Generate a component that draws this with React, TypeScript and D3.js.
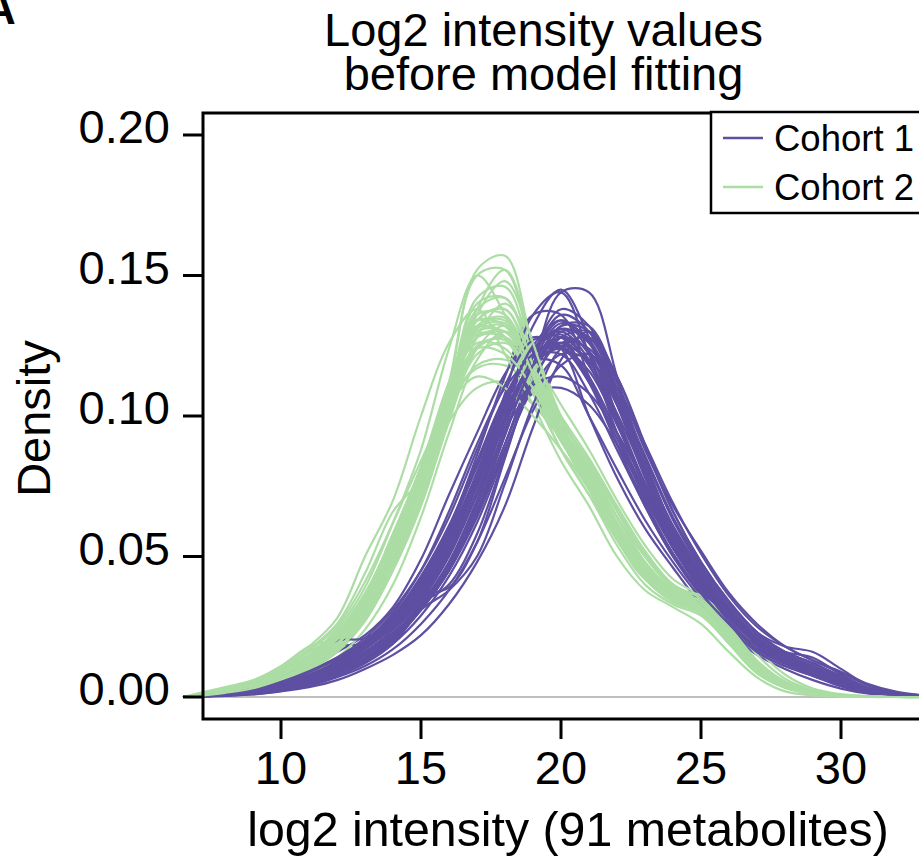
import React from "react";
import * as d3 from "d3";

const xGrid = [6.5, 7, 8, 9, 10, 11, 12, 13, 14, 15, 16, 17, 18, 19, 20, 21, 22, 23, 24, 25, 26, 27, 28, 29, 30, 31, 32, 33];

// Cohort 1 (purple) density curves
const cohort1 = [
  [0,0.0003,0.001,0.002,0.004,0.007,0.011,0.016,0.024,0.036,0.052,0.075,0.100,0.120,0.128,0.118,0.098,0.075,0.055,0.040,0.027,0.018,0.013,0.009,0.005,0.002,0.0007,0.0002],
  [0,0.0002,0.0008,0.0015,0.003,0.005,0.009,0.014,0.021,0.032,0.046,0.066,0.090,0.118,0.144,0.144,0.114,0.080,0.056,0.040,0.028,0.019,0.013,0.009,0.005,0.002,0.0007,0.0002],
  [0,0.0004,0.0012,0.0025,0.005,0.008,0.013,0.019,0.028,0.040,0.056,0.076,0.096,0.108,0.110,0.104,0.090,0.072,0.056,0.042,0.030,0.021,0.015,0.010,0.006,0.0025,0.0008,0.0002],
  [0,0.0005,0.002,0.004,0.007,0.012,0.018,0.019,0.025,0.037,0.054,0.078,0.104,0.122,0.126,0.114,0.094,0.072,0.053,0.039,0.026,0.017,0.012,0.008,0.004,0.0015,0.0005,0.0001],
  [0,0.0002,0.0006,0.0012,0.0025,0.0045,0.008,0.013,0.020,0.033,0.040,0.058,0.086,0.114,0.132,0.130,0.110,0.084,0.060,0.043,0.030,0.020,0.014,0.010,0.006,0.0025,0.0008,0.0002],
  [0,0.0003,0.001,0.002,0.0035,0.006,0.010,0.015,0.022,0.034,0.050,0.072,0.098,0.121,0.134,0.126,0.104,0.078,0.057,0.041,0.028,0.019,0.014,0.010,0.005,0.002,0.0007,0.0002],
  [0,0.0003,0.001,0.002,0.004,0.007,0.012,0.018,0.026,0.038,0.055,0.078,0.103,0.124,0.130,0.120,0.098,0.074,0.054,0.039,0.026,0.017,0.012,0.008,0.004,0.0015,0.0005,0.0001],
  [0,0.0002,0.0008,0.0017,0.0033,0.0058,0.0095,0.015,0.022,0.033,0.048,0.070,0.096,0.122,0.138,0.132,0.108,0.080,0.057,0.041,0.028,0.019,0.014,0.010,0.006,0.0025,0.0008,0.0002],
  [0,0.0003,0.0012,0.0025,0.0045,0.008,0.013,0.019,0.028,0.041,0.060,0.086,0.114,0.136,0.136,0.114,0.090,0.068,0.050,0.036,0.025,0.017,0.012,0.008,0.004,0.0015,0.0005,0.0001],
  [0,0.0002,0.0007,0.0014,0.003,0.005,0.0085,0.013,0.020,0.031,0.045,0.064,0.088,0.110,0.122,0.120,0.106,0.085,0.063,0.046,0.032,0.022,0.016,0.012,0.007,0.003,0.001,0.0003],
  [0,0.0004,0.0013,0.0027,0.005,0.0085,0.0135,0.019,0.027,0.039,0.054,0.075,0.099,0.118,0.124,0.116,0.097,0.076,0.057,0.042,0.029,0.020,0.014,0.010,0.0055,0.002,0.0007,0.0002],
  [0,0.0002,0.0009,0.0018,0.0035,0.006,0.010,0.015,0.022,0.033,0.048,0.070,0.100,0.132,0.145,0.128,0.100,0.074,0.053,0.038,0.026,0.018,0.013,0.009,0.005,0.002,0.0006,0.0002],
  [0,0.0003,0.001,0.002,0.0038,0.0065,0.011,0.017,0.026,0.036,0.039,0.055,0.085,0.114,0.130,0.128,0.108,0.082,0.060,0.043,0.030,0.020,0.014,0.010,0.0055,0.002,0.0007,0.0002],
  [0,0.0002,0.0008,0.0016,0.003,0.0055,0.009,0.014,0.021,0.032,0.047,0.068,0.094,0.117,0.128,0.123,0.104,0.080,0.058,0.042,0.029,0.020,0.016,0.014,0.008,0.003,0.001,0.0003],
  [0,0.0004,0.0014,0.003,0.0055,0.009,0.014,0.020,0.029,0.042,0.059,0.082,0.106,0.122,0.124,0.112,0.092,0.071,0.053,0.039,0.027,0.018,0.013,0.009,0.005,0.002,0.0006,0.0002],
  [0,0.0002,0.0008,0.0016,0.003,0.0052,0.0088,0.014,0.021,0.032,0.046,0.066,0.090,0.115,0.132,0.132,0.112,0.084,0.060,0.043,0.030,0.020,0.014,0.010,0.006,0.0025,0.0008,0.0002],
  [0,0.0003,0.001,0.0022,0.004,0.0072,0.0118,0.0175,0.025,0.037,0.053,0.076,0.102,0.123,0.131,0.122,0.100,0.076,0.056,0.040,0.027,0.018,0.013,0.009,0.005,0.002,0.0007,0.0002],
  [0,0.0002,0.0007,0.0015,0.0028,0.005,0.0085,0.0135,0.0205,0.031,0.045,0.066,0.093,0.119,0.133,0.127,0.107,0.082,0.060,0.044,0.031,0.021,0.015,0.011,0.0065,0.0028,0.0009,0.0003],
  [0,0.0006,0.002,0.004,0.0075,0.011,0.016,0.022,0.032,0.049,0.072,0.094,0.115,0.128,0.124,0.100,0.078,0.060,0.046,0.033,0.023,0.015,0.010,0.006,0.003,0.0012,0.0004,0.0001],
  [0,0.0001,0.0004,0.0009,0.002,0.0035,0.006,0.010,0.015,0.022,0.033,0.048,0.068,0.096,0.120,0.130,0.112,0.088,0.068,0.052,0.037,0.026,0.018,0.013,0.009,0.0045,0.0018,0.0006],
  [0,0.0005,0.0016,0.0032,0.006,0.0095,0.014,0.020,0.030,0.045,0.066,0.090,0.110,0.120,0.118,0.100,0.081,0.063,0.048,0.035,0.024,0.016,0.011,0.0075,0.004,0.0015,0.0005,0.0001],
  [0,0.0001,0.0005,0.001,0.0022,0.004,0.007,0.011,0.017,0.026,0.038,0.055,0.078,0.102,0.118,0.122,0.110,0.090,0.069,0.051,0.036,0.025,0.018,0.013,0.0085,0.004,0.0015,0.0005],
  [0,0.0003,0.001,0.002,0.0038,0.0065,0.0105,0.016,0.024,0.036,0.053,0.078,0.108,0.136,0.144,0.122,0.094,0.070,0.051,0.037,0.025,0.017,0.012,0.0085,0.0045,0.0017,0.0006,0.0002],
  [0,0.0006,0.0022,0.0045,0.008,0.014,0.020,0.021,0.028,0.042,0.060,0.083,0.106,0.121,0.122,0.108,0.088,0.068,0.050,0.037,0.025,0.016,0.011,0.0075,0.0038,0.0014,0.0005,0.0001],
  [0,0.0002,0.0006,0.0012,0.0024,0.0042,0.0075,0.012,0.019,0.031,0.038,0.050,0.076,0.104,0.124,0.128,0.114,0.090,0.066,0.048,0.034,0.023,0.016,0.012,0.0075,0.0032,0.0011,0.0003],
  [0,0.0002,0.0007,0.0014,0.0028,0.005,0.0085,0.013,0.020,0.031,0.045,0.065,0.090,0.113,0.126,0.124,0.108,0.086,0.064,0.047,0.033,0.023,0.018,0.016,0.010,0.004,0.0014,0.0004],
  [0,0.0003,0.0011,0.0023,0.0043,0.0075,0.012,0.018,0.026,0.039,0.056,0.080,0.105,0.124,0.129,0.118,0.097,0.075,0.056,0.041,0.028,0.019,0.0135,0.0095,0.005,0.002,0.0007,0.0002],
  [0,0.0003,0.0011,0.0023,0.0045,0.0078,0.0125,0.019,0.028,0.041,0.058,0.079,0.099,0.111,0.114,0.108,0.094,0.076,0.059,0.044,0.031,0.021,0.015,0.011,0.006,0.0025,0.0008,0.0002],
  [0,0.0004,0.0013,0.0026,0.0048,0.008,0.0125,0.0185,0.027,0.040,0.057,0.079,0.102,0.119,0.126,0.119,0.101,0.079,0.059,0.043,0.030,0.020,0.014,0.010,0.0055,0.0022,0.0007,0.0002],
  [0,0.0002,0.0007,0.0014,0.0027,0.0047,0.008,0.0125,0.019,0.029,0.043,0.062,0.087,0.112,0.128,0.130,0.114,0.089,0.066,0.048,0.034,0.023,0.016,0.012,0.007,0.003,0.001,0.0003],
  [0,0.0004,0.0015,0.003,0.0055,0.0092,0.014,0.021,0.031,0.045,0.064,0.088,0.111,0.127,0.128,0.112,0.090,0.069,0.051,0.037,0.026,0.017,0.012,0.008,0.0042,0.0016,0.0005,0.0001],
  [0,0.0003,0.001,0.0021,0.004,0.007,0.0115,0.017,0.025,0.037,0.053,0.075,0.100,0.121,0.136,0.130,0.106,0.080,0.058,0.042,0.029,0.019,0.014,0.010,0.0055,0.0022,0.0007,0.0002],
  [0,0.0003,0.0009,0.0019,0.0036,0.0062,0.010,0.0155,0.023,0.035,0.051,0.073,0.098,0.118,0.125,0.120,0.104,0.082,0.061,0.045,0.031,0.021,0.015,0.011,0.006,0.0025,0.0008,0.0002],
  [0,0.0004,0.0014,0.0029,0.0052,0.0088,0.0135,0.020,0.029,0.043,0.061,0.084,0.107,0.122,0.125,0.113,0.094,0.073,0.055,0.040,0.028,0.019,0.013,0.009,0.005,0.0019,0.0006,0.0002],
  [0,0.0002,0.0008,0.0016,0.0031,0.0054,0.009,0.014,0.021,0.032,0.047,0.068,0.094,0.118,0.131,0.126,0.106,0.082,0.060,0.044,0.031,0.021,0.015,0.011,0.0062,0.0026,0.0008,0.0002],
  [0,0.0003,0.0011,0.0023,0.0044,0.0076,0.012,0.018,0.026,0.038,0.054,0.077,0.103,0.125,0.134,0.123,0.099,0.075,0.055,0.040,0.027,0.018,0.013,0.009,0.005,0.002,0.0006,0.0002],
];

// Cohort 2 (green) density curves
const cohort2 = [
  [0,0.0005,0.002,0.004,0.008,0.013,0.021,0.034,0.055,0.078,0.108,0.130,0.130,0.114,0.094,0.080,0.062,0.046,0.037,0.033,0.022,0.010,0.004,0.0015,0.0004,0.0001,0,0],
  [0,0.0004,0.0015,0.003,0.006,0.011,0.018,0.030,0.050,0.074,0.110,0.152,0.157,0.124,0.094,0.074,0.056,0.042,0.034,0.031,0.021,0.009,0.0035,0.0012,0.0003,0.0001,0,0],
  [0,0.0006,0.0025,0.005,0.0095,0.015,0.023,0.037,0.057,0.078,0.098,0.110,0.112,0.104,0.092,0.080,0.064,0.050,0.040,0.035,0.025,0.012,0.005,0.002,0.0005,0.0001,0,0],
  [0,0.0006,0.0025,0.005,0.0095,0.016,0.022,0.032,0.054,0.080,0.110,0.132,0.128,0.110,0.091,0.077,0.060,0.045,0.036,0.032,0.021,0.010,0.004,0.0015,0.0004,0.0001,0,0],
  [0,0.0004,0.0018,0.0038,0.0075,0.012,0.020,0.033,0.056,0.076,0.100,0.134,0.138,0.116,0.092,0.076,0.058,0.044,0.035,0.031,0.021,0.0095,0.0038,0.0014,0.0004,0.0001,0,0],
  [0,0.0004,0.0016,0.0032,0.0065,0.011,0.018,0.030,0.049,0.071,0.100,0.128,0.140,0.124,0.100,0.082,0.064,0.048,0.038,0.034,0.023,0.011,0.0045,0.0017,0.0005,0.0001,0,0],
  [0,0.0005,0.002,0.004,0.008,0.013,0.021,0.034,0.054,0.077,0.106,0.128,0.128,0.112,0.092,0.076,0.058,0.043,0.037,0.036,0.024,0.011,0.0045,0.0016,0.0004,0.0001,0,0],
  [0,0.0006,0.0024,0.0048,0.0092,0.015,0.024,0.039,0.062,0.088,0.124,0.150,0.136,0.110,0.088,0.072,0.056,0.042,0.034,0.030,0.020,0.009,0.0036,0.0013,0.0003,0.0001,0,0],
  [0,0.0005,0.0019,0.0038,0.0078,0.0125,0.020,0.033,0.053,0.076,0.104,0.125,0.127,0.114,0.096,0.081,0.064,0.048,0.038,0.033,0.023,0.011,0.0045,0.0017,0.0005,0.0001,0,0],
  [0,0.0004,0.0017,0.0035,0.007,0.012,0.019,0.031,0.051,0.075,0.108,0.140,0.142,0.118,0.092,0.074,0.057,0.043,0.035,0.031,0.021,0.0095,0.0037,0.0013,0.0003,0.0001,0,0],
  [0,0.0005,0.002,0.0042,0.0082,0.0132,0.021,0.034,0.054,0.076,0.102,0.118,0.120,0.112,0.098,0.084,0.067,0.051,0.040,0.034,0.024,0.012,0.005,0.0019,0.0006,0.0002,0,0],
  [0,0.0005,0.0021,0.0042,0.0082,0.0135,0.0215,0.035,0.056,0.080,0.112,0.134,0.132,0.113,0.092,0.077,0.059,0.044,0.035,0.031,0.021,0.0095,0.0038,0.0014,0.0004,0.0001,0,0],
  [0,0.0004,0.0017,0.0036,0.0072,0.012,0.0195,0.032,0.052,0.076,0.106,0.132,0.135,0.117,0.095,0.078,0.060,0.045,0.036,0.032,0.022,0.010,0.004,0.0015,0.0004,0.0001,0,0],
  [0,0.0006,0.0023,0.0046,0.0088,0.0142,0.0225,0.036,0.058,0.082,0.110,0.126,0.124,0.110,0.092,0.078,0.061,0.046,0.037,0.033,0.022,0.010,0.004,0.0015,0.0004,0.0001,0,0],
  [0,0.0005,0.002,0.004,0.0078,0.0128,0.0205,0.033,0.053,0.076,0.105,0.128,0.130,0.114,0.093,0.075,0.056,0.042,0.038,0.030,0.019,0.0085,0.0034,0.0012,0.0003,0.0001,0,0],
  [0,0.0004,0.0016,0.0033,0.0066,0.011,0.018,0.030,0.050,0.074,0.108,0.142,0.146,0.120,0.093,0.075,0.057,0.043,0.034,0.030,0.020,0.009,0.0035,0.0012,0.0003,0.0001,0,0],
  [0,0.0005,0.0019,0.0039,0.0076,0.0125,0.020,0.033,0.054,0.078,0.108,0.131,0.133,0.116,0.095,0.079,0.061,0.046,0.037,0.032,0.022,0.0105,0.0042,0.0016,0.0004,0.0001,0,0],
  [0,0.0005,0.0021,0.0043,0.0083,0.0135,0.0215,0.035,0.056,0.079,0.104,0.117,0.118,0.110,0.096,0.082,0.064,0.048,0.038,0.034,0.023,0.011,0.0045,0.0017,0.0005,0.0001,0,0],
  [0,0.0012,0.0035,0.006,0.011,0.018,0.028,0.050,0.070,0.100,0.126,0.138,0.122,0.104,0.084,0.068,0.050,0.038,0.032,0.026,0.016,0.007,0.002,0.0006,0.0002,0,0,0],
  [0,0.0002,0.0008,0.0018,0.004,0.008,0.014,0.024,0.040,0.064,0.094,0.120,0.130,0.120,0.104,0.088,0.070,0.054,0.042,0.036,0.028,0.017,0.008,0.003,0.001,0.0003,0,0],
  [0,0.0004,0.0016,0.0033,0.0066,0.011,0.018,0.030,0.050,0.075,0.112,0.150,0.152,0.120,0.092,0.074,0.056,0.042,0.034,0.030,0.020,0.009,0.0035,0.0012,0.0003,0.0001,0,0],
  [0,0.0008,0.003,0.0055,0.010,0.017,0.026,0.044,0.066,0.078,0.108,0.134,0.128,0.108,0.088,0.072,0.054,0.040,0.033,0.029,0.019,0.0085,0.0032,0.0011,0.0003,0.0001,0,0],
  [0,0.0003,0.0012,0.0026,0.0055,0.0095,0.016,0.027,0.045,0.068,0.098,0.124,0.132,0.118,0.099,0.083,0.066,0.050,0.039,0.036,0.027,0.015,0.0065,0.0024,0.0007,0.0002,0,0],
  [0,0.0007,0.0028,0.0055,0.0105,0.0165,0.025,0.041,0.062,0.084,0.104,0.114,0.110,0.100,0.088,0.074,0.058,0.044,0.036,0.032,0.022,0.010,0.004,0.0014,0.0004,0.0001,0,0],
  [0,0.0004,0.0015,0.003,0.006,0.010,0.017,0.028,0.047,0.070,0.102,0.136,0.148,0.126,0.098,0.078,0.060,0.045,0.036,0.032,0.021,0.0095,0.0037,0.0013,0.0003,0.0001,0,0],
  [0,0.0005,0.002,0.004,0.0078,0.0128,0.0205,0.033,0.054,0.078,0.108,0.129,0.128,0.112,0.093,0.078,0.060,0.045,0.036,0.032,0.022,0.010,0.004,0.0015,0.0004,0.0001,0,0],
  [0,0.0008,0.003,0.0058,0.011,0.018,0.021,0.030,0.051,0.076,0.106,0.130,0.132,0.114,0.093,0.077,0.059,0.044,0.035,0.031,0.021,0.0095,0.0037,0.0013,0.0003,0.0001,0,0],
  [0,0.0003,0.0013,0.0028,0.0058,0.010,0.0165,0.028,0.046,0.070,0.100,0.122,0.126,0.116,0.100,0.085,0.068,0.052,0.040,0.035,0.025,0.013,0.0055,0.002,0.0006,0.0002,0,0],
  [0,0.0006,0.0024,0.0047,0.009,0.0145,0.0225,0.036,0.058,0.082,0.112,0.132,0.128,0.110,0.091,0.076,0.059,0.044,0.036,0.032,0.021,0.0095,0.0037,0.0013,0.0003,0.0001,0,0],
  [0,0.0004,0.0016,0.0034,0.0068,0.0113,0.0185,0.031,0.051,0.075,0.106,0.134,0.138,0.118,0.096,0.080,0.062,0.047,0.037,0.033,0.023,0.011,0.0043,0.0016,0.0004,0.0001,0,0],
  [0,0.0005,0.0021,0.0042,0.0083,0.0136,0.022,0.036,0.058,0.081,0.110,0.136,0.136,0.114,0.092,0.075,0.057,0.043,0.035,0.031,0.020,0.009,0.0035,0.0012,0.0003,0.0001,0,0],
  [0,0.0004,0.0017,0.0035,0.007,0.0118,0.019,0.031,0.050,0.073,0.102,0.124,0.128,0.116,0.098,0.083,0.066,0.050,0.039,0.034,0.024,0.012,0.005,0.0018,0.0005,0.0001,0,0],
  [0,0.0005,0.002,0.0041,0.008,0.013,0.021,0.034,0.055,0.079,0.110,0.138,0.142,0.118,0.093,0.076,0.058,0.043,0.035,0.031,0.021,0.0095,0.0037,0.0013,0.0003,0.0001,0,0],
  [0,0.0006,0.0023,0.0046,0.0088,0.014,0.022,0.036,0.057,0.080,0.108,0.124,0.122,0.110,0.094,0.079,0.062,0.047,0.038,0.034,0.023,0.011,0.0043,0.0016,0.0004,0.0001,0,0],
  [0,0.0005,0.0019,0.0039,0.0077,0.0127,0.0205,0.033,0.053,0.077,0.107,0.132,0.134,0.115,0.094,0.078,0.060,0.045,0.037,0.034,0.023,0.0105,0.0042,0.0015,0.0004,0.0001,0,0],
  [0,0.0004,0.0015,0.0031,0.0062,0.0105,0.017,0.029,0.048,0.071,0.103,0.138,0.152,0.126,0.096,0.077,0.059,0.044,0.035,0.031,0.021,0.0095,0.0037,0.0013,0.0003,0.0001,0,0],
];

const xTicks = [10, 15, 20, 25, 30];
const yTicks = [0, 0.05, 0.1, 0.15, 0.2];
const yTickLabels = ["0.00", "0.05", "0.10", "0.15", "0.20"];
const seriesNames = ["Cohort 1", "Cohort 2"];
const seriesColors = ["#5E4FA2", "#ABDDA4"];
const titleLines = ["Log2 intensity values", "before model fitting"];
const xLabel = "log2 intensity (91 metabolites)";
const yLabel = "Density";

const W = 919;
const H = 865;
const FONT = "'Liberation Sans', Arial, Helvetica, sans-serif";

export default function App() {
  const x = d3.scaleLinear().domain([10, 30]).range([281, 841]);
  const y = d3.scaleLinear().domain([0, 0.2]).range([697, 135]);
  const box = { left: 203, top: 113, right: 945, bottom: 719 };

  const line = d3
    .line<number>()
    .x((_, i) => x(xGrid[i]))
    .y((d) => y(d))
    .curve(d3.curveCatmullRom.alpha(0.5));

  const paths: { d: string; color: string; key: string }[] = [];
  const n = Math.max(cohort1.length, cohort2.length);
  for (let i = 0; i < n; i++) {
    if (cohort1[i]) paths.push({ d: line(cohort1[i]) || "", color: seriesColors[0], key: "a" + i });
    if (cohort2[i]) paths.push({ d: line(cohort2[i]) || "", color: seriesColors[1], key: "b" + i });
  }

  return (
    <svg
      width={W}
      height={H}
      viewBox={`0 0 ${W} ${H}`}
      style={{ position: "absolute", left: 0, top: 0, background: "#fff" }}
      fontFamily={FONT}
    >
      <rect x={0} y={0} width={W} height={H} fill="#fff" />
      {/* panel letter, mostly cut off at the edge */}
      <text x={-16} y={24} fontSize={44} fontWeight="bold" fill="#000">A</text>

      {/* title */}
      {titleLines.map((t, i) => (
        <text key={t} x={543.5} y={46 + i * 44} fontSize={47} textAnchor="middle" fill="#000">
          {t}
        </text>
      ))}

      {/* zero reference line */}
      <line x1={box.left} x2={box.right} y1={y(0)} y2={y(0)} stroke="#BEBEBE" strokeWidth={2} />

      {/* density curves */}
      <g fill="none" strokeWidth={2.2} strokeLinejoin="round">
        {paths.map((p) => (
          <path key={p.key} d={p.d} stroke={p.color} />
        ))}
      </g>

      {/* plot box */}
      <rect
        x={box.left}
        y={box.top}
        width={box.right - box.left}
        height={box.bottom - box.top}
        fill="none"
        stroke="#000"
        strokeWidth={3}
      />

      {/* y axis ticks */}
      {yTicks.map((t, i) => (
        <g key={"y" + t}>
          <line x1={183} x2={box.left} y1={y(t)} y2={y(t)} stroke="#000" strokeWidth={3} />
          <text x={170} y={y(t) + 8} fontSize={47} textAnchor="end" fill="#000">
            {yTickLabels[i]}
          </text>
        </g>
      ))}

      {/* x axis ticks */}
      {xTicks.map((t) => (
        <g key={"x" + t}>
          <line x1={x(t)} x2={x(t)} y1={box.bottom} y2={box.bottom + 20} stroke="#000" strokeWidth={3} />
          <text x={x(t)} y={784} fontSize={47} textAnchor="middle" fill="#000">
            {t}
          </text>
        </g>
      ))}

      {/* axis labels */}
      <text x={568} y={846} fontSize={48.3} textAnchor="middle" fill="#000">
        {xLabel}
      </text>
      <text
        transform={`translate(50, 418.5) rotate(-90)`}
        fontSize={47}
        textAnchor="middle"
        fill="#000"
      >
        {yLabel}
      </text>

      {/* legend */}
      <rect x={711} y={112} width={240} height={101} fill="#fff" stroke="#000" strokeWidth={2.5} />
      {seriesNames.map((s, i) => (
        <g key={s}>
          <line x1={723} x2={763} y1={138 + i * 49} y2={138 + i * 49} stroke={seriesColors[i]} strokeWidth={2.5} />
          <text x={774} y={151 + i * 49} fontSize={36.5} fill="#000">
            {s}
          </text>
        </g>
      ))}
    </svg>
  );
}
